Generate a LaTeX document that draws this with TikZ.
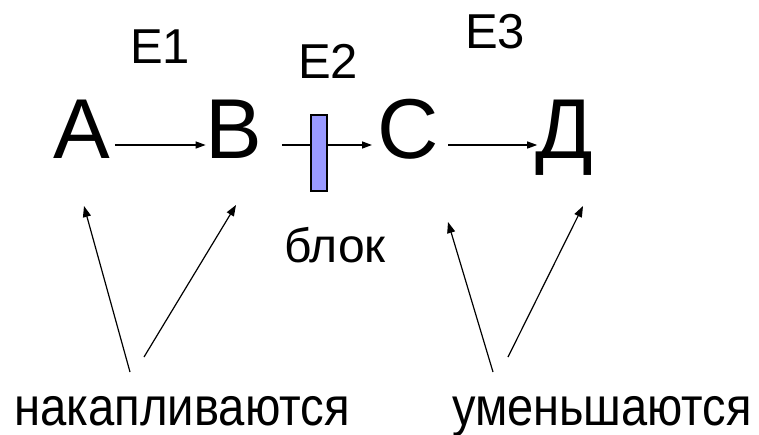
\documentclass[tikz,border=0pt]{standalone}
\usepackage{fontspec}
\setmainfont{Liberation Sans}
\usetikzlibrary{arrows.meta}
\definecolor{blockfill}{RGB}{153,153,255}
\begin{document}
\begin{tikzpicture}[x=1pt,y=-1pt,
  letter/.style={font=\fontsize{85}{85}\selectfont, inner sep=0pt, outer sep=0pt,
    text height=61pt, text depth=35pt, anchor=base},
  elabel/.style={font=\fontsize{49}{49}\selectfont, inner sep=0pt, anchor=base},
  word/.style={font=\fontsize{54}{54}\selectfont, inner sep=0pt, anchor=base},
  flow/.style={line width=1.3pt, -{Triangle[length=10pt,width=7pt]}},
  pointer/.style={line width=1.2pt, -{Triangle[length=11pt,width=8pt]}},
  blockbar/.style={draw, line width=1.3pt, fill=blockfill, minimum width=16pt,
    minimum height=76pt, inner sep=0pt}]
\useasboundingbox (0,0) rectangle (759,434);
% letters
\node[letter] (A) at (81.5,158) {A};
\node[letter] (B) at (234,158) {B};
\node[letter] (C) at (408.5,158) {C};
\node[letter] (D) at (564,158) {Д};
% energy labels
\node[elabel] (E1) at (160,63) {E1};
\node[elabel] (E2) at (328,78) {E2};
\node[elabel] (E3) at (495,48) {E3};
% arrows
\draw[flow, shorten <=5pt] (A) -- (B);
\draw[flow, shorten <=19.6pt, shorten >=5.8pt] (B) -- (C);
\draw[flow, shorten <=8.8pt, shorten >=-2pt] (C) -- (D);
% block
\node[blockbar] (blk) at (319,153) {};
\node[word, font=\fontsize{48}{48}\selectfont] (blok) at (335,262) {блок};
% bottom words
\node[word] (acc) at (182,425) {\scalebox{0.875}[1]{накапливаются}};
\node[word] (dec) at (602,425) {\scalebox{0.87}[1]{уменьшаются}};
% pointer coordinates
\coordinate (a1) at (130,372);
\coordinate (a1t) at (84,206);
\coordinate (a2) at (144,357);
\coordinate (a2t) at (236,205);
\coordinate (d1) at (493,372);
\coordinate (d1t) at (448,222);
\coordinate (d2) at (508,357);
\coordinate (d2t) at (583,206);
\draw[pointer] (a1) -- (a1t);
\draw[pointer] (a2) -- (a2t);
\draw[pointer] (d1) -- (d1t);
\draw[pointer] (d2) -- (d2t);
\end{tikzpicture}
\end{document}
